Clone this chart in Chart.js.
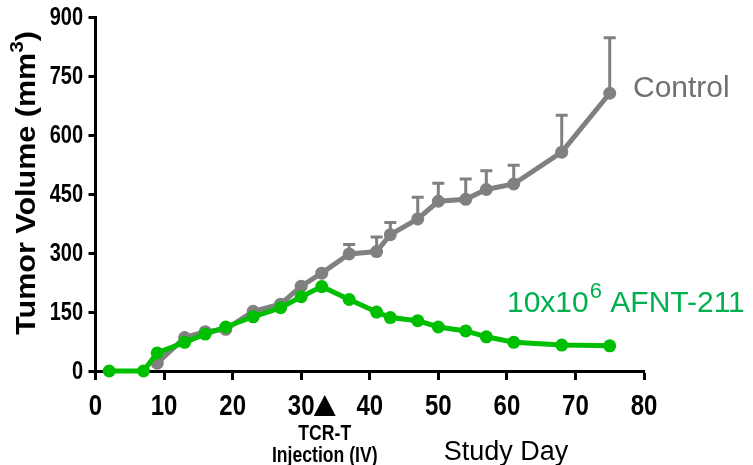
<!DOCTYPE html>
<html>
<head>
<meta charset="utf-8">
<script src="https://cdn.jsdelivr.net/npm/chart.js@4"></script>
<style>
html,body{margin:0;padding:0;background:#fff;}
#wrap{width:753px;height:465px;position:relative;}
</style>
</head>
<body>
<div id="wrap"><canvas id="c" width="753" height="465"></canvas></div>
<script>
// ---- data ----
const treatedDays = [2, 7, 9, 13, 16, 19, 23, 27, 30, 33, 37, 41, 43, 47, 50, 54, 57, 61, 68, 75];
const treatedMean = [0, 0, 46, 73, 94, 112, 138, 161, 189, 215, 182, 150, 136, 128, 112, 102, 87, 73, 66, 64];
const controlDays = [9, 13, 16, 19, 23, 27, 30, 33, 37, 41, 43, 47, 50, 54, 57, 61, 68, 75];
const controlMean = [20, 85, 100, 106, 152, 170, 216, 249, 298, 304, 347, 387, 432, 437, 462, 476, 557, 707];
const controlErr  = [0, 0, 0, 0, 0, 0, 0, 0, 24, 37, 31, 55, 46, 52, 48, 48, 94, 141];
const yTicks = [0, 150, 300, 450, 600, 750, 900];
const xTicks = [0, 10, 20, 30, 40, 50, 60, 70, 80];
const injectionDay = 33;

const GRAY = '#808080';
const GREEN = '#00bf00';
const SANS = '"Liberation Sans", Arial, sans-serif';

// draw condensed text (horizontal squeeze) at x,y
function narrowText(ctx, text, x, y, font, sx, align) {
  ctx.save();
  ctx.font = font;
  ctx.translate(x, y);
  ctx.scale(sx, 1);
  ctx.textAlign = align;
  ctx.fillText(text, 0, 0);
  ctx.restore();
}

const errorBars = {
  id: 'errorBars',
  beforeDatasetsDraw(chart) {
    const ctx = chart.ctx, x = chart.scales.x, y = chart.scales.y;
    ctx.save();
    ctx.strokeStyle = GRAY;
    ctx.lineWidth = 3;
    controlDays.forEach((d, i) => {
      if (!controlErr[i]) return;
      const px = x.getPixelForValue(d);
      const p0 = y.getPixelForValue(controlMean[i]);
      const p1 = y.getPixelForValue(controlMean[i] + controlErr[i]);
      ctx.beginPath();
      ctx.moveTo(px, p0); ctx.lineTo(px, p1);
      ctx.moveTo(px - 6, p1); ctx.lineTo(px + 6, p1);
      ctx.stroke();
    });
    ctx.restore();
  }
};

const annotations = {
  id: 'annotations',
  afterDraw(chart) {
    const ctx = chart.ctx, x = chart.scales.x, y = chart.scales.y;
    ctx.save();
    ctx.fillStyle = '#000';

    // tick labels (condensed bold)
    ctx.textBaseline = 'middle';
    y.ticks.forEach(t => {
      narrowText(ctx, String(t.value), 83, y.getPixelForValue(t.value) + 1, 'bold 25px ' + SANS, 0.8, 'right');
    });
    ctx.textBaseline = 'alphabetic';
    x.ticks.forEach(t => {
      narrowText(ctx, String(t.value), x.getPixelForValue(t.value), 415, 'bold 30px ' + SANS, 0.8, 'center');
    });

    // y-axis title
    ctx.save();
    ctx.translate(35, 183);
    ctx.rotate(-Math.PI / 2);
    ctx.scale(1.09, 1);
    ctx.textBaseline = 'alphabetic';
    ctx.font = 'bold 28px ' + SANS;
    const t1 = 'Tumor Volume (mm';
    const w1 = ctx.measureText(t1).width;
    ctx.font = 'bold 19px ' + SANS;
    const w2 = ctx.measureText('3').width;
    ctx.font = 'bold 28px ' + SANS;
    const w3 = ctx.measureText(')').width;
    let sx = -(w1 + w2 + w3) / 2;
    ctx.textAlign = 'left';
    ctx.fillText(t1, sx, 0);
    ctx.font = 'bold 19px ' + SANS;
    ctx.fillText('3', sx + w1, -12);
    ctx.font = 'bold 28px ' + SANS;
    ctx.fillText(')', sx + w1 + w2, 0);
    ctx.restore();

    // injection triangle
    const tx = x.getPixelForValue(injectionDay) + 3;
    ctx.beginPath();
    ctx.moveTo(tx, 395);
    ctx.lineTo(tx + 11, 416);
    ctx.lineTo(tx - 11, 416);
    ctx.closePath();
    ctx.fill();
    ctx.textBaseline = 'alphabetic';
    narrowText(ctx, 'TCR-T', tx, 440, 'bold 22px ' + SANS, 0.8, 'center');
    narrowText(ctx, 'Injection (IV)', tx, 462, 'bold 22px ' + SANS, 0.8, 'center');

    // x-axis title
    ctx.textAlign = 'center';
    ctx.font = '27px ' + SANS;
    ctx.fillText('Study Day', 506, 460);

    // series labels
    ctx.textAlign = 'left';
    ctx.fillStyle = '#707070';
    ctx.font = '30px ' + SANS;
    ctx.fillText('Control', 633, 97);

    ctx.fillStyle = '#00b050';
    let gx = 507;
    const a = '10x10';
    ctx.fillText(a, gx, 312);
    gx += ctx.measureText(a).width;
    ctx.font = '22px ' + SANS;
    ctx.fillText('6', gx + 1, 298);
    gx += ctx.measureText('6').width + 1;
    ctx.font = '30px ' + SANS;
    ctx.fillText(' AFNT-211', gx, 312);
    ctx.restore();
  }
};

new Chart(document.getElementById('c'), {
  type: 'line',
  data: {
    datasets: [
      {
        label: '10x10^6 AFNT-211',
        data: treatedDays.map((d, i) => ({x: d, y: treatedMean[i]})),
        borderColor: GREEN,
        backgroundColor: GREEN,
        borderWidth: 5,
        pointRadius: 6.5,
        pointBorderWidth: 0,
        tension: 0,
        clip: false,
        order: 0
      },
      {
        label: 'Control',
        data: controlDays.map((d, i) => ({x: d, y: controlMean[i]})),
        borderColor: GRAY,
        backgroundColor: GRAY,
        borderWidth: 5,
        pointRadius: 6.5,
        pointBorderWidth: 0,
        tension: 0,
        clip: false,
        order: 1
      }
    ]
  },
  options: {
    responsive: false,
    animation: false,
    events: [],
    layout: {padding: {top: 17, right: 109, left: 0, bottom: 0}},
    plugins: {legend: {display: false}, tooltip: {enabled: false}, title: {display: false}},
    scales: {
      x: {
        type: 'linear',
        min: 0, max: 80,
        afterBuildTicks(s) { s.ticks = xTicks.map(v => ({value: v})); },
        afterFit(s) { s.height = 465 - 371; },
        ticks: {
          color: 'rgba(0,0,0,0)',
          font: {family: SANS, size: 24, weight: 'bold'},
          padding: 4,
          maxRotation: 0,
          autoSkip: false
        },
        grid: {drawOnChartArea: false, drawTicks: true, tickLength: 9, tickWidth: 3, tickColor: '#000'},
        border: {display: true, color: '#000', width: 3}
      },
      y: {
        type: 'linear',
        min: 0, max: 900,
        afterBuildTicks(s) { s.ticks = yTicks.map(v => ({value: v})); },
        afterFit(s) { s.width = 95.5; },
        ticks: {
          color: 'rgba(0,0,0,0)',
          font: {family: SANS, size: 24, weight: 'bold'},
          padding: 3,
          autoSkip: false
        },
        grid: {drawOnChartArea: false, drawTicks: true, tickLength: 7, tickWidth: 3, tickColor: '#000'},
        border: {display: true, color: '#000', width: 3}
      }
    }
  },
  plugins: [errorBars, annotations]
});
</script>
</body>
</html>
